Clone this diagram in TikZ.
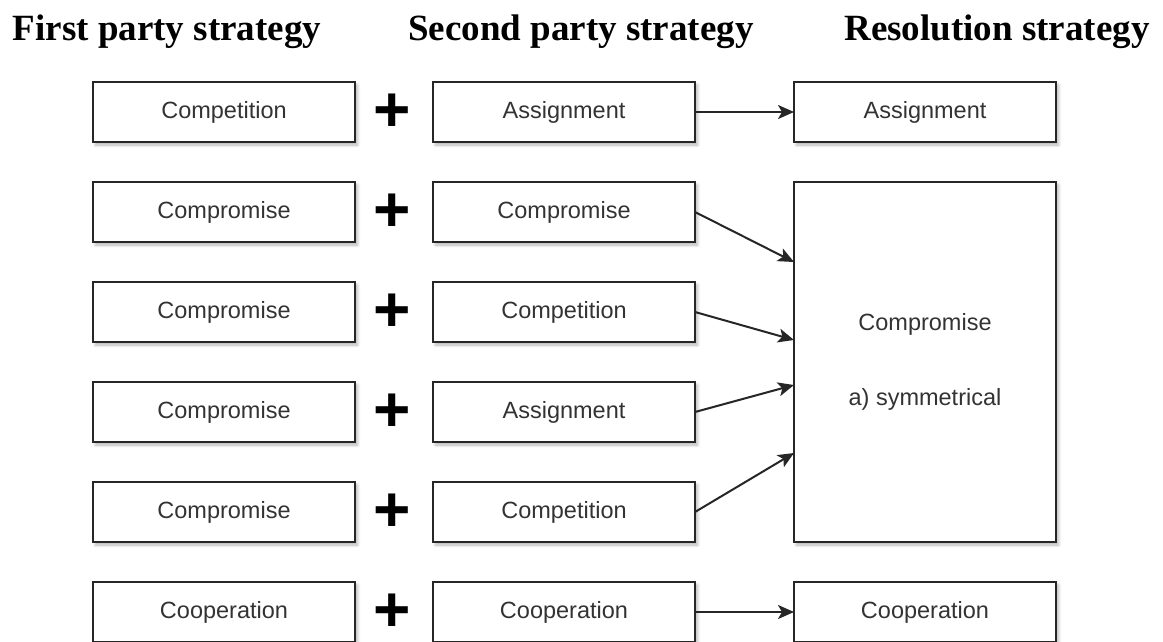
\documentclass[tikz,border=0pt]{standalone}
\usepackage{fontspec}
\setmainfont{Liberation Serif}
\newfontfamily\boxfont{Liberation Sans}
\usepackage{xcolor}
\usetikzlibrary{arrows.meta, positioning, calc, shadows.blur}

\definecolor{boxtext}{HTML}{333333}

\begin{document}
\begin{tikzpicture}[
    x=1pt, y=-1pt,
    node distance=40pt and 78pt,
    box/.style={rectangle, draw=black!85, line width=1.4pt, minimum width=262pt, minimum height=60pt, align=center, inner sep=0pt, outer sep=0pt, text=boxtext, font=\boxfont\fontsize{23.5}{27}\selectfont, blur shadow={shadow xshift=2.5pt, shadow yshift=-3pt, shadow blur steps=6, shadow blur radius=3pt, shadow opacity=30}, fill=white},
    plus/.style={font=\boxfont\bfseries\fontsize{64}{64}\selectfont, inner sep=0pt, anchor=base, yshift=-19pt},
    title/.style={font=\bfseries\fontsize{37}{40}\selectfont, anchor=base, inner sep=0pt},
    arrow/.style={-{Stealth[length=16pt, width=14pt, inset=4pt]}, line width=2pt, draw=black!85}
]
\clip (0,0) rectangle (1163,641);
\useasboundingbox (0,0) rectangle (1163,641);

% headings
\node[title] (h1) at (167,40) {First party strategy};
\node[title] (h2) at (581,40) {Second party strategy};
\node[title] (h3) at (997,40) {Resolution strategy};

% first party column
\node[box] (a1) at (224,112) {Competition};
\node[box, below=of a1] (a2) {Compromise};
\node[box, below=of a2] (a3) {Compromise};
\node[box, below=of a3] (a4) {Compromise};
\node[box, below=of a4] (a5) {Compromise};
\node[box, below=of a5] (a6) {Cooperation};

% second party column
\node[box, right=of a1] (b1) {Assignment};
\node[box, right=of a2] (b2) {Compromise};
\node[box, right=of a3] (b3) {Competition};
\node[box, right=of a4] (b4) {Assignment};
\node[box, right=of a5] (b5) {Competition};
\node[box, right=of a6] (b6) {Cooperation};

% plus signs
\foreach \i in {1,...,6}
    \node[plus] (p\i) at ($(a\i.east)!0.5!(b\i.west)+(-2,0)$) {+};

% resolution column
\node[box, right=99pt of b1] (r1) {Assignment};
\node[box, minimum height=360pt, right=99pt of b2.north east, anchor=north west] (r2) {Compromise\\[48pt]a) symmetrical};
\node[box, right=99pt of b6] (r3) {Cooperation};

\coordinate (e2) at (r2.west |- 0,262);
\coordinate (e3) at (r2.west |- 0,340);
\coordinate (e4) at (r2.west |- 0,385);
\coordinate (e5) at (r2.west |- 0,453);

\draw[arrow] (b1) -- (r1);
\draw[arrow] (b2.east) -- (e2);
\draw[arrow] (b3.east) -- (e3);
\draw[arrow] (b4.east) -- (e4);
\draw[arrow] (b5.east) -- (e5);
\draw[arrow] (b6) -- (r3);

\end{tikzpicture}
\end{document}
